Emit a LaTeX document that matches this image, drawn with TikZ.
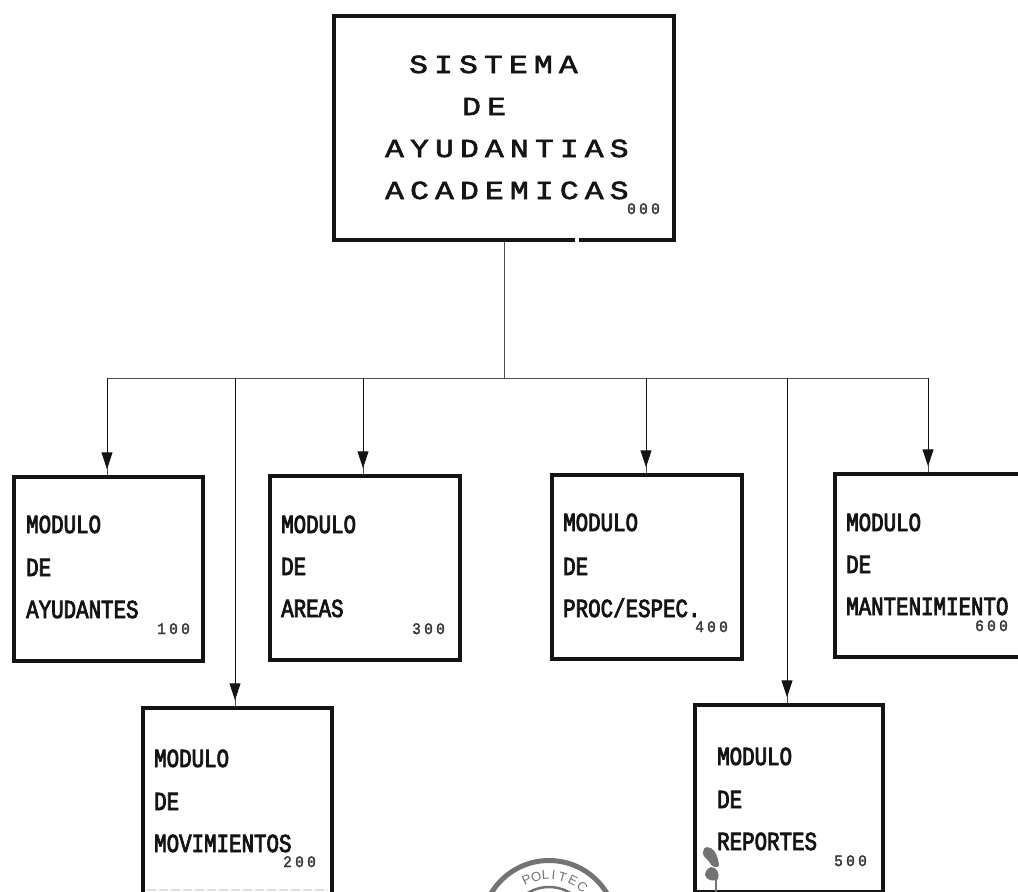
\documentclass[tikz,border=0pt]{standalone}
\usepackage{fontspec}
\usetikzlibrary{arrows.meta,calc}
\newfontfamily\dmfont[FakeStretch=0.8,FakeBold=3]{Liberation Mono}
\newfontfamily\dmwide[FakeStretch=1.2,FakeBold=2.5,LetterSpace=24]{Liberation Mono}
\newfontfamily\dmsmall[FakeStretch=0.9,FakeBold=2,LetterSpace=21]{Liberation Mono}
\newfontfamily\sealfont{Liberation Sans}
\definecolor{ink}{gray}{0.08}
\definecolor{sealgray}{gray}{0.45}
\tikzset{
  box/.style={draw=ink,line width=3.4pt,minimum width=#1,inner sep=0pt},
  lbl/.style={anchor=base west,inner sep=0pt,text=ink,font=\dmfont\fontsize{26}{26}\selectfont},
  ttl/.style={anchor=base west,inner sep=0pt,text=ink,font=\dmwide\fontsize{26}{26}\selectfont},
  num/.style={anchor=base west,inner sep=0pt,text=ink!85,font=\dmsmall\fontsize{16}{16}\selectfont},
  conn/.style={draw=ink!75,line width=1pt},
  arr/.style={conn,postaction={draw=ink,shorten >=6pt,-{Triangle[length=17pt,width=11pt,fill=ink]}}},
  sealch/.style={inner sep=0pt,text=sealgray,font=\sealfont\fontsize{13}{13}\selectfont}
}
\begin{document}
\begin{tikzpicture}[x=1pt,y=-1pt]
\useasboundingbox (0,0) rectangle (1018,892);
\clip (0,0) rectangle (1018,892);
\node[box=340pt,minimum height=224pt] (top) at (504,128) {};
\node[box=189pt,minimum height=184pt] (m1) at (108.5,569) {};
\node[box=190pt,minimum height=184pt] (m3) at (365,568) {};
\node[box=190pt,minimum height=184pt] (m4) at (647,567) {};
\node[box=190pt,minimum height=183pt] (m6) at (930,565.5) {};
\node[box=189pt,minimum height=187pt] (m2) at (237.5,801.5) {};
\node[box=188pt,minimum height=187pt] (m5) at (789,798.5) {};
% scan artefacts of the boxes
\draw[white,line width=5pt] (574.5,240) -- (579,240);
\draw[gray!25,line width=1.2pt,dash pattern=on 9pt off 3pt] (147,890) -- (328,890);
% connectors
\coordinate (b0) at (504,378);
\coordinate (b1) at (107,378);
\coordinate (b2) at (235,378);
\coordinate (b3) at (363,378);
\coordinate (b4) at (646,378);
\coordinate (b5) at (787,378);
\coordinate (b6) at (928,378);
\draw[conn] (top.south) -- (b0);
\draw[conn] (b1) -- (b6);
\draw[arr] (b1) -- (b1 |- m1.north);
\draw[arr] (b2) -- (b2 |- m2.north);
\draw[arr] (b3) -- (b3 |- m3.north);
\draw[arr] (b4) -- (b4 |- m4.north);
\draw[arr] (b5) -- (b5 |- m5.north);
\draw[arr] (b6) -- (b6 |- m6.north);
% title
\node[ttl] (t1) at (409,73) {SISTEMA};
\node[ttl] (t2) at (462,115) {DE};
\node[ttl] (t3) at (385,157) {AYUDANTIAS};
\node[ttl] (t4) at (385,199) {ACADEMICAS};
\node[num] (n0) at (627,214) {000};
% modules
\node[lbl] (a1) at (26,533) {MODULO};
\node[lbl] (a2) at (26,576) {DE};
\node[lbl] (a3) at (26,618) {AYUDANTES};
\node[num] (n1) at (157,634) {100};
\node[lbl] (c1) at (281,533) {MODULO};
\node[lbl] (c2) at (281,575) {DE};
\node[lbl] (c3) at (281,617) {AREAS};
\node[num] (n3) at (412,634) {300};
\node[lbl] (d1) at (563,531) {MODULO};
\node[lbl] (d2) at (563,575) {DE};
\node[lbl] (d3) at (563,617) {PROC/ESPEC.};
\node[num] (n4) at (695,632) {400};
\node[lbl] (f1) at (846,531) {MODULO};
\node[lbl] (f2) at (846,573) {DE};
\node[lbl] (f3) at (846,615) {MANTENIMIENTO};
\node[num] (n6) at (975,631) {600};
\node[lbl] (b2a) at (154,767) {MODULO};
\node[lbl] (b2b) at (154,810) {DE};
\node[lbl] (b2c) at (154,852) {MOVIMIENTOS};
\node[num] (n2) at (283,867) {200};
\node[lbl] (e1) at (717,765) {MODULO};
\node[lbl] (e2) at (717,808) {DE};
\node[lbl] (e3) at (717,850) {REPORTES};
\node[num] (n5) at (834,866) {500};
% seal
\coordinate (sc) at (549,928);
\draw[sealgray,line width=5pt] (sc) circle[radius=67.5];
\draw[sealgray,line width=2.5pt] (sc) circle[radius=41];
\foreach \ch/\ang in {P/-25,O/-14,L/-4,I/5,T/15,E/27,C/39}{
  \node[sealch,rotate=-\ang] (seal\ch) at ($(sc)+(\ang-90:53)$) {\ch};
}
% smudge
\fill[sealgray] (707,847) .. controls (714,847) and (718,856) .. (719,865) .. controls (719,869) and (711,867) .. (710,863) .. controls (708,859) and (702,857) .. (703,852) .. controls (703,849) and (705,847) .. (707,847) -- cycle;
\fill[sealgray] (711,867) .. controls (717,867) and (720,874) .. (718,879) .. controls (716,882) and (706,881) .. (705,875) .. controls (705,871) and (708,868) .. (711,867) -- cycle;
\draw[sealgray,line width=2pt] (716,880) -- (716,892);
\end{tikzpicture}
\end{document}
